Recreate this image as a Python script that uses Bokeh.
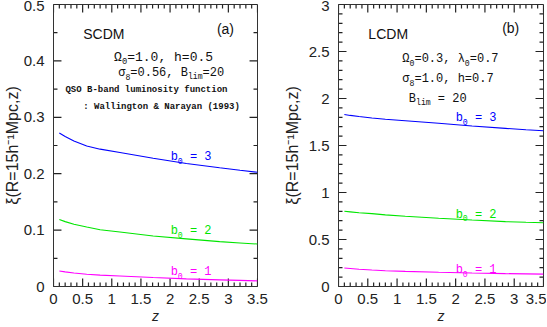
import numpy as np
from bokeh.plotting import figure
from bokeh.models import Label, SingleIntervalTicker, CustomJSTickFormatter, Range1d
from bokeh.layouts import row
from bokeh.embed import file_html
from bokeh.resources import INLINE

# ---- data ----
z = [0.1, 0.2, 0.35, 0.57, 0.8, 1.14, 1.71, 2.28, 2.85, 3.2, 3.5]

scdm_b3 = [0.272, 0.266, 0.258, 0.249, 0.2435, 0.2375, 0.2275, 0.218, 0.2105, 0.206, 0.2025]
scdm_b2 = [0.1187, 0.115, 0.1105, 0.1055, 0.1005, 0.0965, 0.0895, 0.0845, 0.0795, 0.0772, 0.0753]
scdm_b1 = [0.0276, 0.026, 0.024, 0.0218, 0.0202, 0.0187, 0.0160, 0.0136, 0.0118, 0.0108, 0.0099]

lcdm_b3 = [1.829, 1.82, 1.808, 1.793, 1.78, 1.764, 1.736, 1.707, 1.682, 1.667, 1.657]
lcdm_b2 = [0.800, 0.794, 0.785, 0.775, 0.762, 0.747, 0.726, 0.707, 0.690, 0.683, 0.678]
lcdm_b1 = [0.196, 0.191, 0.183, 0.175, 0.168, 0.161, 0.151, 0.143, 0.137, 0.134, 0.132]

x_range = (0, 3.5)
scdm_yrange = (0, 0.5)
lcdm_yrange = (0, 3)
y_title = "ξ(R=15h⁻¹Mpc,z)"
x_title = "z"

BLUE = "#0000ff"
GREEN = "#00e600"
MAGENTA = "#ff00ff"
AXIS = "#333333"
TICK = "#222222"
MONO = "Liberation Mono"
SANS = "Liberation Sans"
NB = "\u00a0"

FRAME_W = 205
FRAME_H = 280

fmt = CustomJSTickFormatter(code="return (+tick.toFixed(2)).toString();")


def add_ticks(p, yr, yint, ystep):
    """inward tick marks on all four sides, drawn as one broken line"""
    x0, x1 = x_range
    y0, y1 = yr
    dy_maj = 8 / FRAME_H * (y1 - y0)
    dy_min = 4 / FRAME_H * (y1 - y0)
    dx_maj = 8 / FRAME_W * (x1 - x0)
    dx_min = 4 / FRAME_W * (x1 - x0)
    lx, ly = [], []
    for v in [round(t, 6) for t in np.arange(x0, x1 + 1e-9, 0.1)]:
        r = (v / 0.5) % 1
        L = dy_maj if (r < 1e-6 or r > 1 - 1e-6) else dy_min
        lx += [v, v, np.nan, v, v, np.nan]
        ly += [y0, y0 + L, np.nan, y1, y1 - L, np.nan]
    for v in [round(t, 6) for t in np.arange(y0, y1 + 1e-9, ystep)]:
        r = (v / yint) % 1
        L = dx_maj if (r < 1e-6 or r > 1 - 1e-6) else dx_min
        lx += [x0, x0 + L, np.nan, x1, x1 - L, np.nan]
        ly += [v, v, np.nan, v, v, np.nan]
    p.line(lx, ly, line_color=TICK, line_width=1.2)


def make_fig(yr, yint, ystep, width, bl, br, ylab_standoff):
    p = figure(width=width, height=326, x_range=Range1d(*x_range), y_range=Range1d(*yr),
               output_backend="svg", toolbar_location=None,
               min_border_left=bl, min_border_right=br, min_border_top=4, min_border_bottom=40)
    p.grid.visible = False
    p.outline_line_color = AXIS
    p.xaxis.ticker = SingleIntervalTicker(interval=0.5, num_minor_ticks=0)
    p.yaxis.ticker = SingleIntervalTicker(interval=yint, num_minor_ticks=0)
    for ax in (p.xaxis[0], p.yaxis[0]):
        ax.axis_line_color = AXIS
        ax.major_tick_in = 0
        ax.major_tick_out = 0
        ax.minor_tick_in = 0
        ax.minor_tick_out = 0
        ax.major_label_text_font = SANS
        ax.major_label_text_font_size = "15px"
        ax.major_label_text_color = "#222222"
        ax.formatter = fmt
        ax.axis_label_text_font = SANS
        ax.axis_label_text_color = "#222222"
    p.xaxis.major_label_standoff = 7
    p.yaxis.major_label_standoff = 9
    p.xaxis.axis_label = x_title
    p.xaxis.axis_label_text_font_style = "italic"
    p.xaxis.axis_label_text_font_size = "14px"
    p.xaxis.axis_label_standoff = 1
    p.yaxis.axis_label = y_title
    p.yaxis.axis_label_text_font_style = "normal"
    p.yaxis.axis_label_text_font_size = "16px"
    p.yaxis.axis_label_standoff = ylab_standoff
    add_ticks(p, yr, yint, ystep)
    return p


def seg_text(p, x, y, segments, size, color="#111111", font=MONO, bold=False):
    """segments: list of (text, is_sub); monospace advance = 0.6 em"""
    off = 0.0
    for txt, sub in segments:
        s = size * 0.68 if sub else size
        p.add_layout(Label(x=x, y=y, x_offset=off, y_offset=(-3.5 if sub else 0),
                           text=txt.replace(" ", NB),
                           text_font=font, text_font_size=f"{s:.1f}px", text_color=color,
                           text_baseline="alphabetic", text_align="left",
                           text_font_style="bold" if bold else "normal"))
        off += len(txt) * 0.6 * s


def sans_text(p, x, y, txt, size, align="left"):
    p.add_layout(Label(x=x, y=y, text=txt, text_font=SANS, text_font_size=f"{size}px",
                       text_color="#111111", text_align=align, text_baseline="middle"))


# ---------------- left panel: SCDM ----------------
p1 = make_fig(scdm_yrange, 0.1, 0.05, 280, 52, 23, 0)
p1.line(z, scdm_b3, color=BLUE, line_width=1.1)
p1.line(z, scdm_b2, color=GREEN, line_width=1.1)
p1.line(z, scdm_b1, color=MAGENTA, line_width=1.1)

sans_text(p1, 0.51, 0.448, "SCDM", 14)
sans_text(p1, 2.95, 0.457, "(a)", 14, align="center")
seg_text(p1, 1.04, 0.406, [("Ω", False), ("0", True), ("=1.0, h=0.5", False)], 13)
seg_text(p1, 1.11, 0.378, [("σ", False), ("8", True), ("=0.56, B", False), ("lim", True), ("=20", False)], 12)
seg_text(p1, 0.205, 0.349, [("QSO B-band luminosity function", False)], 9, bold=True)
seg_text(p1, 0.51, 0.319, [(": Wallington & Narayan (1993)", False)], 9, bold=True)
seg_text(p1, 2.01, 0.229, [("b", False), ("0", True), (" = 3", False)], 12, color=BLUE)
seg_text(p1, 2.01, 0.098, [("b", False), ("0", True), (" = 2", False)], 12, color=GREEN)
seg_text(p1, 2.01, 0.025, [("b", False), ("0", True), (" = 1", False)], 12, color=MAGENTA)

# ---------------- right panel: LCDM ----------------
p2 = make_fig(lcdm_yrange, 0.5, 0.1, 266, 58, 3, 5)
p2.line(z, lcdm_b3, color=BLUE, line_width=1.1)
p2.line(z, lcdm_b2, color=GREEN, line_width=1.1)
p2.line(z, lcdm_b1, color=MAGENTA, line_width=1.1)

sans_text(p2, 0.51, 2.69, "LCDM", 14)
sans_text(p2, 2.94, 2.75, "(b)", 14, align="center")
seg_text(p2, 1.09, 2.42, [("Ω", False), ("0", True), ("=0.3, ", False), ("λ", False), ("0", True), ("=0.7", False)], 12)
seg_text(p2, 1.09, 2.205, [("σ", False), ("8", True), ("=1.0, h=0.7", False)], 12)
seg_text(p2, 1.2, 2.0, [("B", False), ("lim", True), (" = 20", False)], 12)
seg_text(p2, 2.0, 1.79, [("b", False), ("0", True), (" = 3", False)], 12, color=BLUE)
seg_text(p2, 2.0, 0.765, [("b", False), ("0", True), (" = 2", False)], 12, color=GREEN)
seg_text(p2, 2.0, 0.175, [("b", False), ("0", True), (" = 1", False)], 12, color=MAGENTA)

layout = row(p1, p2)
open("out.html", "w").write(file_html(layout, INLINE))
